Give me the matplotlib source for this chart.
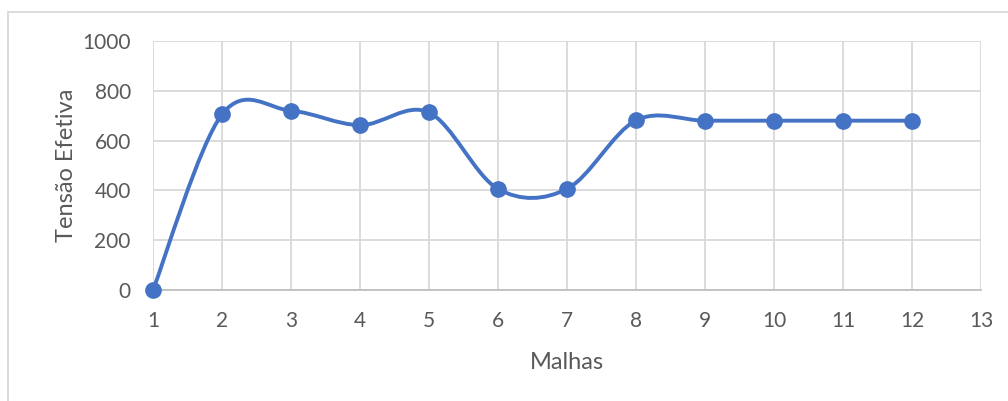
import numpy as np
import matplotlib
matplotlib.use("Agg")
import matplotlib.pyplot as plt
from matplotlib.path import Path
from matplotlib.patches import PathPatch, Rectangle

malhas = [1, 2, 3, 4, 5, 6, 7, 8, 9, 10, 11, 12]
tensao = [0, 705, 720, 662, 713, 406, 406, 681, 680, 680, 680, 680]
x_ticks = list(range(1, 14))
y_ticks = [0, 200, 400, 600, 800, 1000]

plt.rcParams['font.family'] = ['Lato', 'DejaVu Sans']
text_color = '#595959'
line_color = '#4472C4'

fig = plt.figure(figsize=(10.08, 4.01), dpi=100)
ax = fig.add_axes([153/1008, 1 - 290/401, (981-153)/1008, (290-41)/401])

# Excel-style smooth curve (cubic Bezier, Catmull-Rom tangents)
xs = np.asarray(malhas, float)
ys = np.asarray(tensao, float)
pts = np.column_stack([xs, ys])
verts = [pts[0]]
codes = [Path.MOVETO]
n = len(pts)
for i in range(n - 1):
    p0 = pts[i - 1] if i > 0 else pts[i]
    p1 = pts[i]
    p2 = pts[i + 1]
    p3 = pts[i + 2] if i + 2 < n else pts[i + 1]
    c1 = p1 + (p2 - p0) / 6.0
    c2 = p2 - (p3 - p1) / 6.0
    verts += [c1, c2, p2]
    codes += [Path.CURVE4] * 3
ax.add_patch(PathPatch(Path(verts, codes), fill=False, edgecolor=line_color,
                       lw=2.8, capstyle='round', joinstyle='round', zorder=3))
ax.plot(malhas, tensao, 'o', color=line_color, ms=11, zorder=4, clip_on=False)

ax.set_xlim(1, 13)
ax.set_ylim(0, 1000)
ax.set_xticks(x_ticks)
ax.set_yticks(y_ticks)
ax.grid(True, color='#d9d9d9', lw=1.3, zorder=0)
ax.set_axisbelow(True)
for s in ['top', 'right', 'left']:
    ax.spines[s].set_visible(False)
ax.spines['bottom'].set_color('#bfbfbf')
ax.spines['bottom'].set_linewidth(1.3)
ax.tick_params(length=0, labelsize=15, colors=text_color)
ax.tick_params(axis='x', pad=15)
ax.tick_params(axis='y', pad=16)
ax.set_xlabel('Malhas', fontsize=17, color=text_color, labelpad=15)
ax.set_ylabel('Tensão Efetiva', fontsize=17, color=text_color, labelpad=4)

# outer chart border
fig.patches.append(Rectangle((8/1008, -0.1), 1.1, 1 - 11.5/401 + 0.1,
                             transform=fig.transFigure, fill=False,
                             edgecolor='#d9d9d9', lw=1.3))

fig.savefig('out.png', dpi=100)
